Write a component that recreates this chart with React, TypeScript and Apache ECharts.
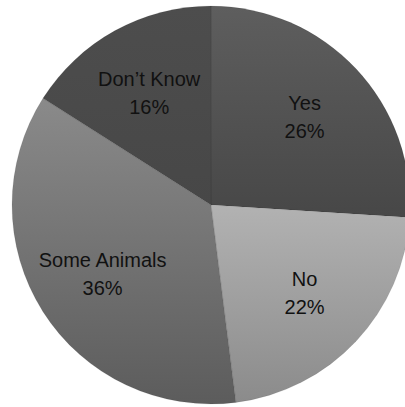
import React, { useEffect, useRef } from "react";
import * as echarts from "echarts";

const categories = ["Yes", "No", "Some Animals", "Don\u2019t Know"];
const values = [26, 22, 36, 16];
const topColors = ["#5e5e5e", "#b2b2b2", "#8a8a8a", "#4d4d4d"];
const bottomColors = ["#474747", "#8b8b8b", "#5c5c5c", "#474747"];

export default function App() {
  const ref = useRef<HTMLDivElement>(null);
  useEffect(() => {
    if (!ref.current) return;
    const chart = echarts.init(ref.current, undefined, { renderer: "svg" });
    const center = [211, 205];
    const R = 199;
    const data = categories.map((name, i) => ({
      name,
      value: values[i],
      itemStyle: {
        color: new echarts.graphic.LinearGradient(0, 0, 0, 1, [
          { offset: 0, color: topColors[i] },
          { offset: 1, color: bottomColors[i] },
        ]),
      },
    }));
    chart.setOption({
      animation: false,
      backgroundColor: "#ffffff",
      series: [
        {
          type: "pie",
          center,
          radius: [0, R],
          startAngle: 90,
          clockwise: true,
          silent: true,
          data,
          itemStyle: { borderColor: "rgba(0,0,0,0.15)", borderWidth: 0.5 },
          label: { show: false },
          labelLine: { show: false },
        },
        {
          type: "pie",
          center,
          radius: [R * 0.26, R],
          startAngle: 90,
          clockwise: true,
          silent: true,
          data: categories.map((name, i) => ({ name, value: values[i] })),
          itemStyle: { color: "rgba(0,0,0,0)", borderWidth: 0 },
          label: {
            show: true,
            position: "inside",
            formatter: "{b}\n{c}%",
            color: "#111111",
            fontFamily: "'Liberation Sans', Arial, sans-serif",
            fontSize: 20,
            lineHeight: 28,
          },
          labelLine: { show: false },
        },
      ],
    });
    return () => chart.dispose();
  }, []);
  return (
    <div
      ref={ref}
      style={{ position: "fixed", left: 0, top: 0, width: 405, height: 407 }}
    />
  );
}
